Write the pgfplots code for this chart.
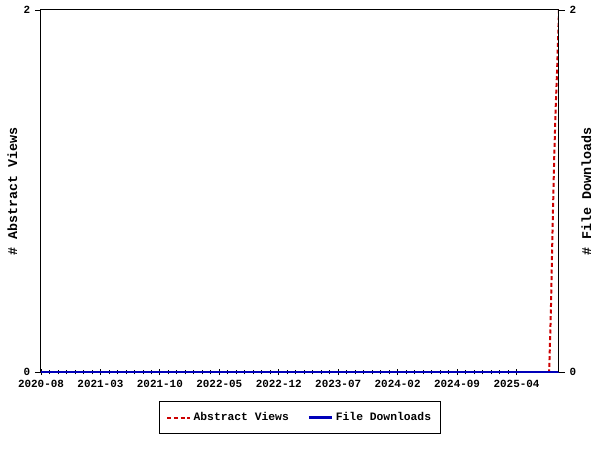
\documentclass[border=0pt]{standalone}
\usepackage{fontspec}
\setmainfont{Liberation Mono}
\usepackage{pgfplots}
\pgfplotsset{compat=1.18}
\definecolor{viewred}{RGB}{204,0,0}
\definecolor{dlblue}{RGB}{0,0,185}

\begin{document}
\begin{tikzpicture}[font=\bfseries]
\useasboundingbox (-30.75pt,-58.5pt) rectangle (419.25pt,279pt);
\begin{axis}[
    scale only axis,
    width=388.5pt, height=271.5pt,
    xmin=0, xmax=61, ymin=0, ymax=2,
    axis line style={line width=0.75pt},
    xtick={0,7,...,56},
    xticklabels={2020-08,2021-03,2021-10,2022-05,2022-12,2023-07,2024-02,2024-09,2025-04},
    minor x tick num=6,
    xtick pos=bottom,
    xtick align=center,
    major tick length=4.5pt, minor tick length=3.5pt,
    ytick={0,2},
    ytick pos=left, ytick align=outside,
    /pgf/number format/assume math mode=true,
    tick label style={font=\fontsize{8.2}{9}\bfseries},
    tick style={black, line width=0.6pt},
    ylabel={\# Abstract Views},
    ylabel style={font=\fontsize{10}{12}\bfseries, yshift=-2pt},
    legend style={at={(0.5,-0.1257)}, anchor=center, legend columns=2,
        font=\fontsize{8.5}{10}\bfseries, draw=black, line width=0.75pt,
        inner xsep=5pt, inner ysep=6pt,
        /tikz/every even column/.append style={column sep=12pt}},
    legend cell align=left,
]
\addplot[viewred, line width=1.5pt, dash pattern=on 3pt off 2pt] coordinates {
    (0,0) (59.84,0) (60.04,0.326) (60.24,0.785) (60.43,1.171) (60.60,1.448) (60.79,1.685) (61,2)
};
\addlegendentry{Abstract Views}
\addplot[dlblue, line width=2.2pt] coordinates {
    (0,0) (61,0)
};
\addlegendentry{File Downloads}
\end{axis}
\begin{axis}[
    scale only axis,
    width=388.5pt, height=271.5pt,
    xmin=0, xmax=61, ymin=0, ymax=2,
    axis x line=none,
    axis y line*=right,
    axis line style={line width=0.75pt, -},
    ytick={0,2}, ytick align=outside,
    major tick length=4.5pt,
    tick style={black, line width=0.6pt},
    /pgf/number format/assume math mode=true,
    tick label style={font=\fontsize{8.2}{9}\bfseries},
    ylabel={\# File Downloads},
    ylabel style={font=\fontsize{10}{12}\bfseries, yshift=3pt},
]
\addplot[draw=none] coordinates {(0,0)};
\end{axis}
\end{tikzpicture}
\end{document}
